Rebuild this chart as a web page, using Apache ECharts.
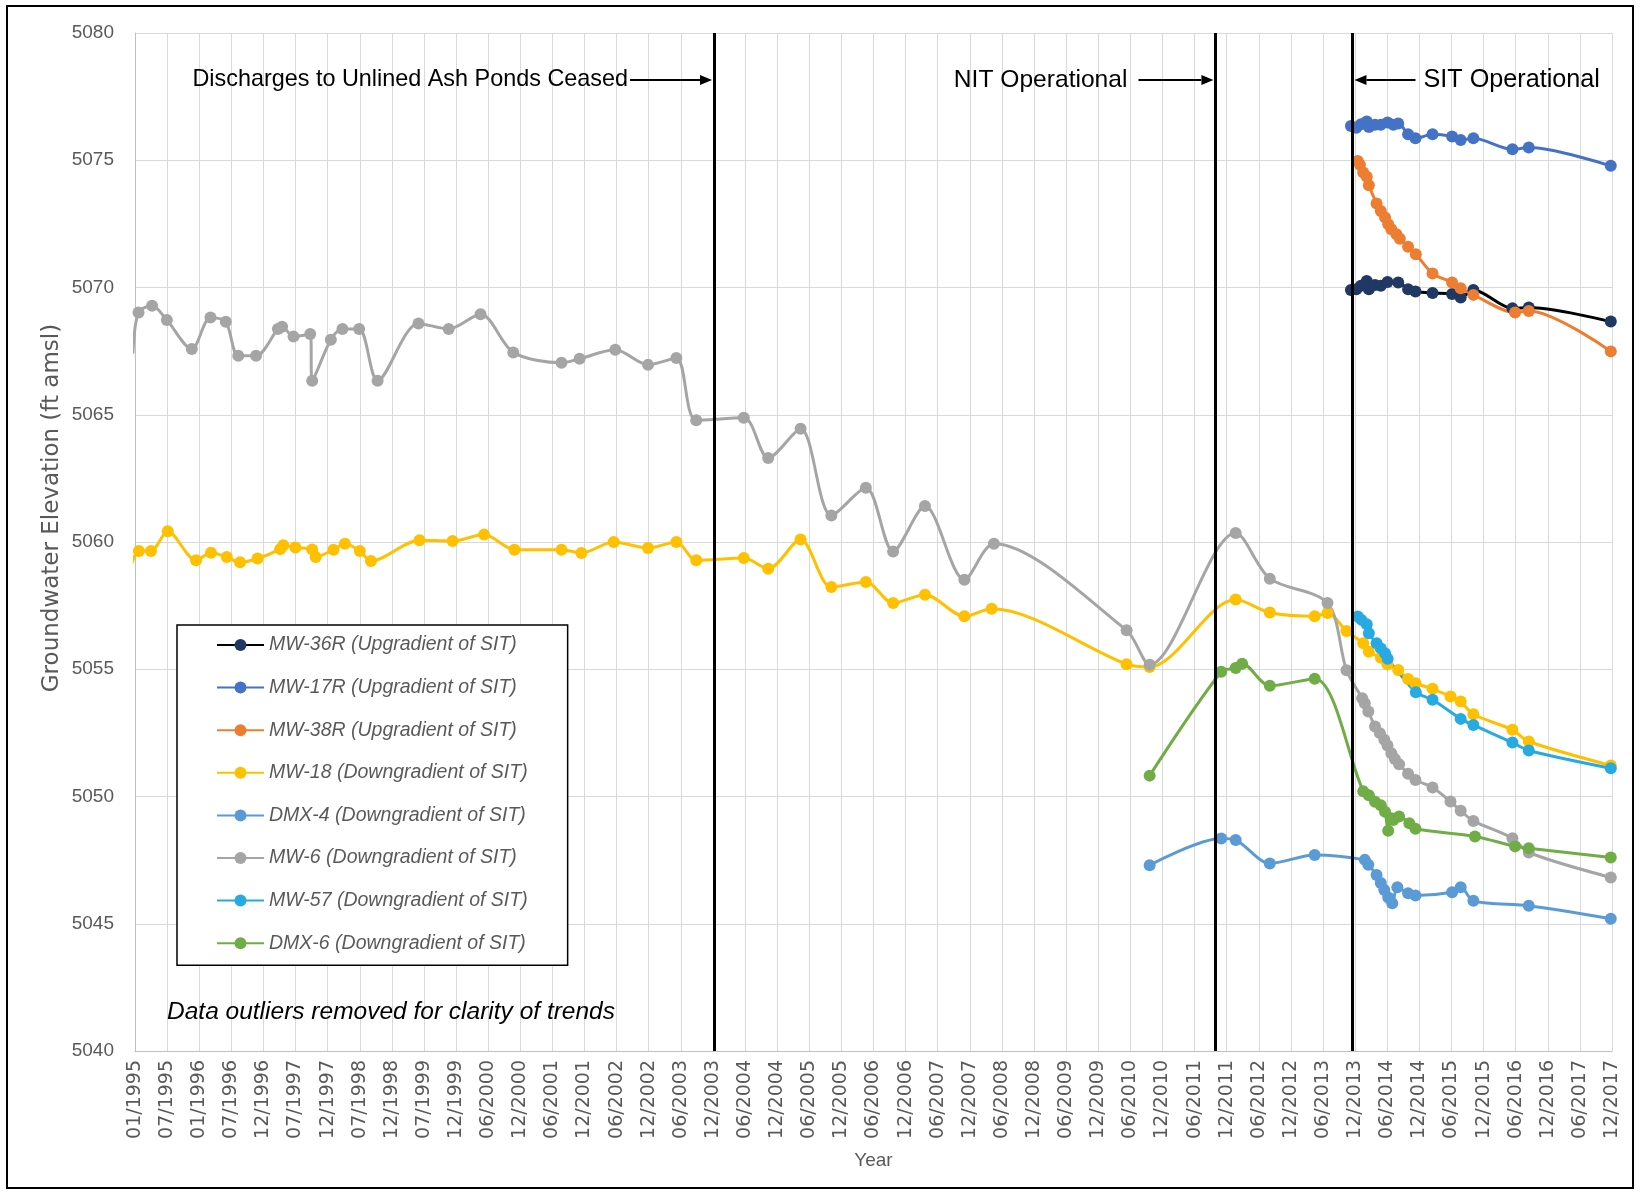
<!DOCTYPE html>
<html>
<head>
<meta charset="utf-8">
<script src="https://cdn.jsdelivr.net/npm/echarts@6/dist/echarts.min.js"></script>
<style>
    html, body { margin: 0; padding: 0; background: #fff; }
    #chart { width: 1640px; height: 1193px; }
</style>
</head>
<body>
<div id="chart"></div>
<script>
// date axis: one tick every 182.5 days starting 01/01/1995
const xTickLabels = ['01/1995', '07/1995', '01/1996', '07/1996', '12/1996', '07/1997', '12/1997', '07/1998',
    '12/1998', '07/1999', '12/1999', '06/2000', '12/2000', '06/2001', '12/2001', '06/2002', '12/2002', '06/2003',
    '12/2003', '06/2004', '12/2004', '06/2005', '12/2005', '06/2006', '12/2006', '06/2007', '12/2007', '06/2008',
    '12/2008', '06/2009', '12/2009', '06/2010', '12/2010', '06/2011', '12/2011', '06/2012', '12/2012', '06/2013',
    '12/2013', '06/2014', '12/2014', '06/2015', '12/2015', '06/2016', '12/2016', '06/2017', '12/2017'];

const mw36rDates = ['2013-12-03', '2014-01-03', '2014-01-29', '2014-03-03', '2014-03-15', '2014-04-19', '2014-05-22',
    '2014-06-29', '2014-08-29', '2014-10-24', '2014-12-05', '2015-03-12', '2015-07-01', '2015-08-19', '2015-10-30',
    '2016-06-08', '2016-09-09', '2017-12-19'];
const mw36rValues = [5069.90, 5069.93, 5070.07, 5070.26, 5069.93, 5070.10, 5070.07, 5070.22, 5070.20, 5069.93,
    5069.84, 5069.78, 5069.74, 5069.61, 5069.90, 5069.18, 5069.21, 5068.66];

const mw17rDates = ['2013-12-03', '2014-01-03', '2014-01-29', '2014-03-03', '2014-03-15', '2014-04-19', '2014-05-22',
    '2014-06-29', '2014-08-01', '2014-08-29', '2014-10-24', '2014-12-05', '2015-03-12', '2015-07-01', '2015-08-19',
    '2015-10-30', '2016-06-08', '2016-09-09', '2017-12-19'];
const mw17rValues = [5076.35, 5076.28, 5076.41, 5076.52, 5076.31, 5076.39, 5076.39, 5076.48, 5076.39, 5076.44,
    5076.02, 5075.86, 5076.02, 5075.93, 5075.80, 5075.86, 5075.43, 5075.50, 5074.78];

const mw38rDates = ['2014-01-11', '2014-01-23', '2014-02-11', '2014-03-03', '2014-03-15', '2014-04-28', '2014-05-22',
    '2014-06-15', '2014-07-03', '2014-07-21', '2014-08-19', '2014-09-07', '2014-10-24', '2014-12-07', '2015-03-12',
    '2015-07-01', '2015-08-19', '2015-10-30', '2016-06-23', '2016-09-09', '2017-12-19'];
const mw38rValues = [5074.97, 5074.82, 5074.52, 5074.35, 5074.02, 5073.30, 5073.01, 5072.75, 5072.49, 5072.29,
    5072.09, 5071.92, 5071.60, 5071.31, 5070.55, 5070.20, 5069.97, 5069.71, 5069.02, 5069.08, 5067.49];

const mw18Dates = ['1994-12-10', '1995-01-23', '1995-04-02', '1995-07-06', '1995-12-14', '1996-03-08', '1996-06-06',
    '1996-08-20', '1996-11-28', '1997-04-05', '1997-04-23', '1997-07-01', '1997-10-04', '1997-10-24', '1998-02-02',
    '1998-04-08', '1998-07-02', '1998-09-03', '1999-06-06', '1999-12-11', '2000-06-07', '2000-11-27', '2001-08-21',
    '2001-12-12', '2002-06-14', '2002-12-26', '2003-06-05', '2003-09-26', '2004-06-22', '2004-11-08', '2005-05-11',
    '2005-11-02', '2006-05-17', '2006-10-19', '2007-04-18', '2007-11-28', '2008-05-01', '2010-06-07', '2010-10-16',
    '2012-02-17', '2012-08-29', '2013-05-11', '2013-07-23', '2013-11-08', '2014-02-11', '2014-03-15', '2014-05-22',
    '2014-06-29', '2014-08-29', '2014-10-24', '2014-12-05', '2015-03-12', '2015-06-22', '2015-08-19', '2015-10-30',
    '2016-06-08', '2016-09-09', '2017-12-19'];
const mw18Values = [5059.05, 5059.65, 5059.65, 5060.42, 5059.28, 5059.58, 5059.41, 5059.20, 5059.35, 5059.72,
    5059.87, 5059.78, 5059.71, 5059.41, 5059.70, 5059.93, 5059.65, 5059.25, 5060.07, 5060.04, 5060.29, 5059.70,
    5059.70, 5059.57, 5060.00, 5059.76, 5060.00, 5059.28, 5059.37, 5058.95, 5060.10, 5058.23, 5058.43, 5057.60,
    5057.93, 5057.08, 5057.38, 5055.20, 5055.09, 5057.74, 5057.23, 5057.08, 5057.21, 5056.50, 5056.02, 5055.69,
    5055.45, 5055.20, 5054.97, 5054.62, 5054.45, 5054.23, 5053.93, 5053.73, 5053.23, 5052.62, 5052.16, 5051.22];

const dmx4Dates = ['2010-10-16', '2011-11-27', '2012-02-17', '2012-08-29', '2013-05-11', '2014-02-20', '2014-03-12',
    '2014-04-28', '2014-05-22', '2014-06-11', '2014-07-03', '2014-07-26', '2014-08-24', '2014-10-24', '2014-12-05',
    '2015-07-01', '2015-08-19', '2015-10-30', '2016-09-09', '2017-12-19'];
const dmx4Values = [5047.30, 5048.35, 5048.29, 5047.37, 5047.70, 5047.51, 5047.32, 5046.92, 5046.60, 5046.33,
    5046.03, 5045.81, 5046.43, 5046.20, 5046.11, 5046.24, 5046.43, 5045.90, 5045.71, 5045.20];

const mw6Dates = ['1994-12-20', '1995-01-21', '1995-04-08', '1995-07-01', '1995-11-20', '1996-03-05', '1996-05-31',
    '1996-08-10', '1996-11-19', '1997-03-23', '1997-04-16', '1997-06-20', '1997-09-23', '1997-10-04', '1998-01-18',
    '1998-03-25', '1998-06-28', '1998-10-11', '1999-05-31', '1999-11-19', '2000-05-18', '2000-11-20', '2001-08-21',
    '2001-12-02', '2002-06-23', '2002-12-26', '2003-06-05', '2003-09-26', '2004-06-22', '2004-11-08', '2005-05-11',
    '2005-11-02', '2006-05-17', '2006-10-19', '2007-04-18', '2007-11-28', '2008-05-14', '2010-06-07', '2010-10-16',
    '2012-02-17', '2012-08-29', '2013-07-23', '2013-11-08', '2014-02-05', '2014-02-20', '2014-03-12', '2014-04-19',
    '2014-05-17', '2014-06-11', '2014-06-29', '2014-07-21', '2014-08-10', '2014-09-03', '2014-10-24', '2014-12-05',
    '2015-03-12', '2015-06-22', '2015-08-19', '2015-10-30', '2016-06-08', '2016-09-09', '2017-12-19'];
const mw6Values = [5067.40, 5069.02, 5069.28, 5068.72, 5067.58, 5068.82, 5068.65, 5067.32, 5067.32, 5068.37,
    5068.46, 5068.07, 5068.17, 5066.34, 5067.95, 5068.37, 5068.37, 5066.34, 5068.59, 5068.37, 5068.95, 5067.45,
    5067.04, 5067.20, 5067.55, 5066.96, 5067.23, 5064.78, 5064.88, 5063.30, 5064.45, 5061.04, 5062.13, 5059.63,
    5061.41, 5058.52, 5059.93, 5056.53, 5055.18, 5060.35, 5058.56, 5057.60, 5054.96, 5053.86, 5053.66, 5053.34,
    5052.75, 5052.49, 5052.23, 5052.00, 5051.70, 5051.47, 5051.27, 5050.89, 5050.65, 5050.35, 5049.80, 5049.44,
    5049.04, 5048.36, 5047.80, 5046.82];

const mw57Dates = ['2014-01-11', '2014-02-01', '2014-03-03', '2014-03-15', '2014-04-28', '2014-05-22', '2014-06-15',
    '2014-06-30', '2014-12-07', '2015-03-12', '2015-08-19', '2015-10-30', '2016-06-08', '2016-09-09', '2017-12-19'];
const mw57Values = [5057.07, 5056.94, 5056.77, 5056.41, 5056.02, 5055.82, 5055.63, 5055.41, 5054.10, 5053.80,
    5053.05, 5052.81, 5052.12, 5051.81, 5051.11];

const dmx6Dates = ['2010-10-16', '2011-11-27', '2012-02-17', '2012-03-25', '2012-08-29', '2013-05-11', '2014-02-11',
    '2014-03-15', '2014-04-19', '2014-05-22', '2014-06-15', '2014-07-03', '2014-07-21', '2014-08-01', '2014-09-03',
    '2014-10-31', '2014-12-05', '2015-11-08', '2016-06-23', '2016-09-09', '2017-12-19'];
const dmx6Values = [5050.82, 5054.90, 5055.05, 5055.22, 5054.35, 5054.63, 5050.21, 5050.05, 5049.79, 5049.66,
    5049.40, 5048.65, 5049.15, 5049.08, 5049.21, 5048.95, 5048.73, 5048.43, 5048.04, 5047.97, 5047.60];

// discharges ceased, NIT operational, SIT operational
const eventDates = ['2004-01-05', '2011-10-25', '2013-12-12'];
const eventTexts = ['Discharges to Unlined Ash Ponds Ceased', 'NIT Operational', 'SIT Operational'];

const DAY = 86400000;
const AXIS_START = Date.UTC(1995, 0, 1);
const TICK_DAYS = 182.5;

function toDays(s) {
    const p = s.split('-');
    return (Date.UTC(+p[0], +p[1] - 1, +p[2]) - AXIS_START) / DAY;
}

function pairs(dates, values) {
    return dates.map((d, i) => [toDays(d), values[i]]);
}

const wells = [
    { name: 'MW-36R (Upgradient of SIT)', dates: mw36rDates, values: mw36rValues, line: '#000000', marker: '#203864' },
    { name: 'MW-17R (Upgradient of SIT)', dates: mw17rDates, values: mw17rValues, line: '#4472C4', marker: '#4472C4' },
    { name: 'MW-38R (Upgradient of SIT)', dates: mw38rDates, values: mw38rValues, line: '#ED7D31', marker: '#ED7D31' },
    { name: 'MW-18 (Downgradient of SIT)', dates: mw18Dates, values: mw18Values, line: '#FFC000', marker: '#FFC000' },
    { name: 'DMX-4 (Downgradient of SIT)', dates: dmx4Dates, values: dmx4Values, line: '#5B9BD5', marker: '#5B9BD5' },
    { name: 'MW-6 (Downgradient of SIT)', dates: mw6Dates, values: mw6Values, line: '#A5A5A5', marker: '#A5A5A5' },
    { name: 'MW-57 (Downgradient of SIT)', dates: mw57Dates, values: mw57Values, line: '#27AAE1', marker: '#27AAE1' },
    { name: 'DMX-6 (Downgradient of SIT)', dates: dmx6Dates, values: dmx6Values, line: '#70AD47', marker: '#70AD47' }
];

var chart = echarts.init(document.getElementById('chart'), null, { renderer: 'canvas' });

const series = [
    {
        // event markers (vertical black lines)
        name: 'events',
        type: 'line',
        data: [],
        silent: true,
        markLine: {
            silent: true,
            symbol: ['none', 'none'],
            label: { show: false },
            lineStyle: { color: '#000', width: 3, type: 'solid' },
            data: eventDates.map(d => ({ xAxis: toDays(d) }))
        }
    }
];

wells.forEach(w => {
    series.push({
        name: w.name,
        type: 'line',
        data: pairs(w.dates, w.values),
        smooth: 0.3,
        symbol: 'circle',
        symbolSize: 12,
        clip: true,
        lineStyle: { color: w.line, width: 3 },
        itemStyle: { color: w.marker },
        emphasis: { disabled: true }
    });
});

var option = {
    animation: false,
    backgroundColor: '#fff',
    grid: {
        left: 135,
        right: 28,
        top: 33,
        bottom: 142,
        outerBoundsMode: 'none'
    },
    legend: {
        orient: 'vertical',
        left: 177,
        top: 625,
        data: wells.map(w => w.name),
        itemWidth: 47,
        itemHeight: 15,
        itemGap: 22.6,
        padding: [10, 40, 12, 39],
        backgroundColor: '#fff',
        borderColor: '#000',
        borderWidth: 1.5,
        selectedMode: false,
        textStyle: {
            fontFamily: 'Liberation Sans',
            fontStyle: 'italic',
            fontSize: 19.5,
            lineHeight: 20,
            color: '#595959'
        }
    },
    xAxis: {
        type: 'value',
        min: 0,
        max: TICK_DAYS * (xTickLabels.length - 1),
        interval: TICK_DAYS,
        name: 'Year',
        nameLocation: 'middle',
        nameGap: 100,
        nameTextStyle: { fontFamily: 'Liberation Sans', fontSize: 19, color: '#595959' },
        axisLine: { show: true, lineStyle: { color: '#BFBFBF', width: 1 } },
        axisTick: { show: false },
        axisLabel: {
            rotate: 90,
            margin: 9,
            fontFamily: 'DejaVu Sans',
            fontSize: 19,
            color: '#595959',
            formatter: v => xTickLabels[Math.round(v / TICK_DAYS)] || ''
        },
        splitLine: { show: true, lineStyle: { color: '#D9D9D9', width: 1 } }
    },
    yAxis: {
        type: 'value',
        min: 5040,
        max: 5080,
        interval: 5,
        axisLine: { show: true, lineStyle: { color: '#BFBFBF', width: 1 } },
        axisTick: { show: false },
        axisLabel: {
            fontFamily: 'Liberation Sans',
            fontSize: 19,
            color: '#595959',
            margin: 21,
            formatter: v => String(v)
        },
        splitLine: { lineStyle: { color: '#D9D9D9', width: 1 } }
    },
    series: series
};

chart.setOption(option);

// annotations: text + arrows pointing at the event lines
function arrow(from, to, y) {
    const dir = to > from ? 1 : -1;
    const head = 12;
    return [
        { type: 'line', silent: true, z: 10, shape: { x1: from, y1: y, x2: to - dir * head, y2: y },
          style: { stroke: '#000', lineWidth: 2 } },
        { type: 'polygon', silent: true, z: 10, shape: { points: [[to, y], [to - dir * head, y - 5], [to - dir * head, y + 5]] },
          style: { fill: '#000' } }
    ];
}

const annY = 80;
const ex = eventDates.map(d => chart.convertToPixel({ xAxisIndex: 0, yAxisIndex: 0 }, [toDays(d), 5060])[0]);

let graphics = [];
graphics = graphics.concat(arrow(ex[0] - 84, ex[0] - 2, annY));
graphics.push({ type: 'text', silent: true, z: 10, x: ex[0] - 86, y: annY,
    style: { text: eventTexts[0], font: '23.4px "Liberation Sans"', fill: '#000', align: 'right', verticalAlign: 'middle' } });
graphics = graphics.concat(arrow(ex[1] - 77, ex[1] - 2, annY));
graphics.push({ type: 'text', silent: true, z: 10, x: ex[1] - 88, y: annY,
    style: { text: eventTexts[1], font: '24.6px "Liberation Sans"', fill: '#000', align: 'right', verticalAlign: 'middle' } });
graphics = graphics.concat(arrow(ex[2] + 63, ex[2] + 2, annY));
graphics.push({ type: 'text', silent: true, z: 10, x: ex[2] + 71, y: annY,
    style: { text: eventTexts[2], font: '25.2px "Liberation Sans"', fill: '#000', align: 'left', verticalAlign: 'middle' } });
graphics.push({ type: 'text', silent: true, z: 10, x: 167, y: 1012,
    style: { text: 'Data outliers removed for clarity of trends', font: 'italic 24.5px "Liberation Sans"',
             fill: '#000', align: 'left', verticalAlign: 'middle' } });
// y axis title
graphics.push({ type: 'text', silent: true, z: 10, x: 52, y: 508, rotation: Math.PI / 2,
    style: { text: 'Groundwater Elevation (ft amsl)', font: '23px "DejaVu Sans"', fill: '#595959',
             align: 'center', verticalAlign: 'middle' } });
graphics.push({ type: 'rect', silent: true, z: 20, shape: { x: 7, y: 6, width: 1626, height: 1182 },
    style: { fill: 'none', stroke: '#000', lineWidth: 2 } });

chart.setOption({ graphic: graphics });
</script>
</body>
</html>
